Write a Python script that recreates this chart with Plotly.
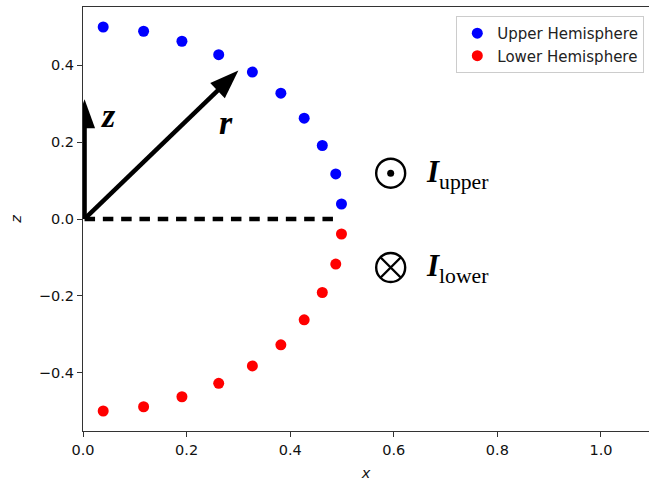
import math
import plotly.graph_objects as go

# Sample positions on the two hemispheres (x, z)
x_upper = [0.039, 0.117, 0.191, 0.262, 0.327, 0.382, 0.427, 0.462, 0.488, 0.499]
z_upper = [0.499, 0.488, 0.462, 0.427, 0.382, 0.327, 0.262, 0.191, 0.117, 0.039]
x_lower = [0.039, 0.117, 0.191, 0.262, 0.327, 0.382, 0.427, 0.462, 0.488, 0.499]
z_lower = [-0.499, -0.488, -0.462, -0.427, -0.382, -0.327, -0.262, -0.191, -0.117, -0.039]

series_names = ["Upper Hemisphere", "Lower Hemisphere"]
series_colors = ["#0000ff", "#ff0000"]

x_ticks = [0.0, 0.2, 0.4, 0.6, 0.8, 1.0]
z_ticks = [-0.4, -0.2, 0.0, 0.2, 0.4]

X_RANGE = [0.0, 1.0927]
Z_RANGE = [-0.551, 0.551]

W, H = 649, 483
MARGIN = dict(l=83, r=0, t=7, b=52, pad=0)

# Geometry of the annotation arrows
ORIGIN = (0.003, 0.0)
Z_TIP = (0.003, 0.311)
R_TIP = (0.300, 0.386)
RADIUS_END = 0.495
HEAD_LEN = 29
HEAD_W = 21
SHAFT_W = 4.5

px_x = (W - MARGIN["l"] - MARGIN["r"]) / (X_RANGE[1] - X_RANGE[0])
px_y = (H - MARGIN["t"] - MARGIN["b"]) / (Z_RANGE[1] - Z_RANGE[0])

fig = go.Figure()
for xs, zs, name, color in zip([x_upper, x_lower], [z_upper, z_lower], series_names, series_colors):
    fig.add_trace(go.Scatter(
        x=xs, y=zs, mode="markers", name=name,
        marker=dict(color=color, size=11, line=dict(width=0)),
    ))

# Current direction symbols: dot (out of page) and cross (into page)
SYM_X = 0.594
SYM_Z_UP = 0.119
SYM_Z_LO = -0.126
fig.add_trace(go.Scatter(
    x=[SYM_X, SYM_X], y=[SYM_Z_UP, SYM_Z_LO], mode="markers", showlegend=False, hoverinfo="skip",
    marker=dict(symbol="circle-open", size=29, color="black", line=dict(width=2.4)),
))
fig.add_trace(go.Scatter(
    x=[SYM_X], y=[SYM_Z_UP], mode="markers", showlegend=False, hoverinfo="skip",
    marker=dict(symbol="circle", size=7, color="black", line=dict(width=0)),
))
fig.add_trace(go.Scatter(
    x=[SYM_X], y=[SYM_Z_LO], mode="markers", showlegend=False, hoverinfo="skip",
    marker=dict(symbol="x-thin-open", size=20.5, color="black", line=dict(width=2.4, color="black")),
))

# Dashed radius along the equator
fig.add_shape(type="line", x0=ORIGIN[0], y0=ORIGIN[1], x1=RADIUS_END, y1=0.0,
              line=dict(color="black", width=SHAFT_W, dash="10.5px,7.8px"))


def add_arrow(tail, tip):
    dx = (tip[0] - tail[0]) * px_x
    dy = (tip[1] - tail[1]) * px_y
    length = math.hypot(dx, dy)
    ux, uy = dx / length, dy / length
    nx, ny = -uy, ux
    bx, by = -ux * HEAD_LEN, -uy * HEAD_LEN
    p1 = (bx + nx * HEAD_W / 2, by + ny * HEAD_W / 2)
    p2 = (bx - nx * HEAD_W / 2, by - ny * HEAD_W / 2)
    end = (tip[0] - ux * (HEAD_LEN - 3) / px_x, tip[1] - uy * (HEAD_LEN - 3) / px_y)
    fig.add_shape(type="line", x0=tail[0], y0=tail[1], x1=end[0], y1=end[1],
                  line=dict(color="black", width=SHAFT_W))
    fig.add_shape(type="path", xsizemode="pixel", ysizemode="pixel",
                  xanchor=tip[0], yanchor=tip[1],
                  path=f"M0,0 L{p1[0]:.2f},{p1[1]:.2f} L{p2[0]:.2f},{p2[1]:.2f} Z",
                  fillcolor="black", line=dict(width=0))


add_arrow(ORIGIN, Z_TIP)
add_arrow(ORIGIN, R_TIP)

serif = "Liberation Serif"
labels = [
    dict(x=0.050, y=0.268, text="<b><i>z</i></b>", xanchor="center"),
    dict(x=0.277, y=0.252, text="<b><i>r</i></b>", xanchor="center"),
]
for lab in labels:
    fig.add_annotation(x=lab["x"], y=lab["y"], text=lab["text"], showarrow=False,
                       xanchor=lab["xanchor"], yanchor="middle",
                       font=dict(family=serif, size=34, color="black"))

currents = [
    dict(x=0.658, y=0.116, text="<b><i>I</i></b><sub>upper</sub>"),
    dict(x=0.658, y=-0.128, text="<b><i>I</i></b><sub>lower</sub>"),
]
for cur in currents:
    fig.add_annotation(x=cur["x"], y=cur["y"], text=cur["text"], showarrow=False,
                       xanchor="left", yanchor="middle",
                       font=dict(family=serif, size=31, color="black"))

axis_font = dict(family="DejaVu Sans", size=14.5, color="#111111")
fig.update_layout(
    width=W, height=H, margin=MARGIN,
    paper_bgcolor="white", plot_bgcolor="white",
    font=axis_font,
    xaxis=dict(
        range=X_RANGE, tickvals=x_ticks, tickformat=".1f",
        showgrid=False, zeroline=False,
        showline=True, linecolor="#333333", linewidth=1.2, mirror=True,
        ticks="outside", ticklen=5, tickwidth=1.2, tickcolor="#333333",
        tickfont=axis_font,
        title=dict(text="x", font=dict(family="DejaVu Sans", size=14.5, style="italic"), standoff=11),
    ),
    yaxis=dict(
        range=Z_RANGE, tickvals=z_ticks, tickformat=".1f",
        showgrid=False, zeroline=False,
        showline=True, linecolor="#333333", linewidth=1.2, mirror=False,
        ticks="outside", ticklen=5, tickwidth=1.2, tickcolor="#333333",
        tickfont=axis_font,
        title=dict(text="z", font=dict(family="DejaVu Sans", size=14.5, style="italic"), standoff=13),
    ),
    legend=dict(
        x=0.9917, y=0.979, xanchor="right", yanchor="top",
        font=dict(family="DejaVu Sans", size=15, color="#222222"),
        bgcolor="rgba(255,255,255,0.85)", bordercolor="#cccccc", borderwidth=1,
        itemwidth=30,
    ),
    showlegend=True,
)

fig.write_html("out.html")
